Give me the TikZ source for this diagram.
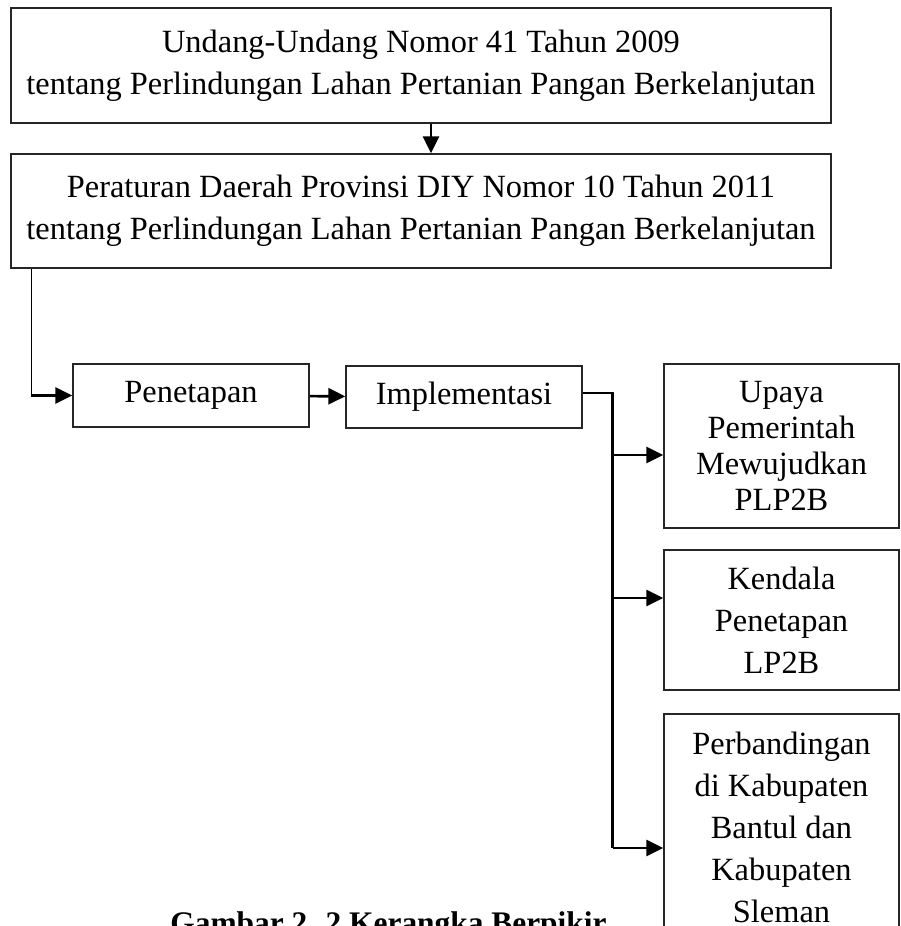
\documentclass[tikz,border=0pt]{standalone}
\usepackage{fontspec}
\setmainfont{Liberation Serif}
\usetikzlibrary{arrows.meta}

\begin{document}
\begin{tikzpicture}[x=0.5pt, y=-0.5pt,
    kotak/.style={draw=black!85, line width=0.7pt, align=center, inner sep=2pt,
        font=\fontsize{16.2}{21}\selectfont},
    link/.style={black, line width=1.3pt, -{Triangle[length=8.5pt, width=8pt]}},
    garis/.style={black, line width=1.3pt}]
    \useasboundingbox (0,0) rectangle (900,926);
    \clip (0,0) rectangle (900,926);

    % Dasar hukum
    \node[kotak, minimum width=410pt, minimum height=57.5pt] (uu) at (421,65.5)
        {Undang-Undang Nomor 41 Tahun 2009\\tentang Perlindungan Lahan Pertanian Pangan Berkelanjutan};
    \node[kotak, minimum width=410pt, minimum height=57pt] (perda) at (421,211)
        {Peraturan Daerah Provinsi DIY Nomor 10 Tahun 2011\\tentang Perlindungan Lahan Pertanian Pangan Berkelanjutan};

    % Tahapan
    \node[kotak, minimum width=118pt, minimum height=31.5pt] (penetapan) at (191,395.5) {Penetapan};
    \node[kotak, minimum width=118pt, minimum height=31pt] (implementasi) at (464,397) {Implementasi};

    % Hasil
    \node[kotak, minimum width=117.5pt, minimum height=82pt,
        font=\fontsize{16.2}{18}\selectfont] (upaya) at (781.5,446)
        {Upaya\\Pemerintah\\Mewujudkan\\PLP2B};
    \node[kotak, minimum width=117.5pt, minimum height=70pt] (kendala) at (781.5,620)
        {Kendala\\Penetapan\\LP2B};
    \node[kotak, minimum width=117.5pt, minimum height=113pt] (perbandingan) at (781.5,827)
        {Perbandingan\\di Kabupaten\\Bantul dan\\Kabupaten\\Sleman};

    % Judul gambar
    \node[anchor=base west, inner sep=0pt, font=\fontsize{15.7}{18}\selectfont\bfseries] (judul) at (170,933)
        {Gambar 2. 2 Kerangka Berpikir};

    % Panah
    \draw[link] ([xshift=5pt]uu.south) -- ([xshift=5pt]perda.north);
    \coordinate (belok) at ([xshift=10.5pt]perda.south west |- penetapan.west);
    \draw[black, line width=0.7pt] ([xshift=10.5pt]perda.south west) -- (belok);
    \draw[link] (belok) -- (penetapan.west);
    \draw[link] (penetapan) -- (implementasi);

    \coordinate (cabang) at ([xshift=15pt, yshift=2pt]implementasi.east);
    \coordinate (keU) at ([yshift=-4.5pt]upaya.west);
    \coordinate (keK) at ([yshift=11pt]kendala.west);
    \coordinate (keP) at ([yshift=-10.5pt]perbandingan.west);
    \draw[garis] ([yshift=2pt]implementasi.east) -- (cabang) -- (cabang |- keP);
    \draw[link] (cabang |- keU) -- (keU);
    \draw[link] (cabang |- keK) -- (keK);
    \draw[link] (cabang |- keP) -- (keP);
\end{tikzpicture}
\end{document}
